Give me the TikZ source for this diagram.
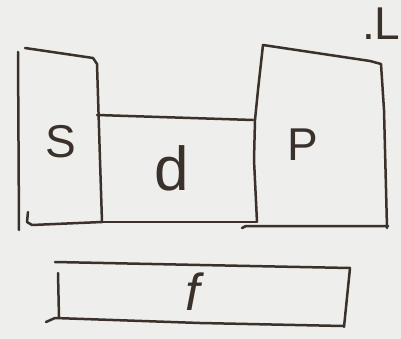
\documentclass[tikz,border=0pt]{standalone}
\usepackage{fontspec}
\setmainfont{Liberation Sans}
\definecolor{ink}{RGB}{58,50,42}
\definecolor{paper}{RGB}{238,238,236}
\begin{document}
\begin{tikzpicture}[x=1pt,y=-1pt,
  pen/.style={draw=ink,line width=2.5pt,line cap=round,line join=round},
  lbl/.style={text=ink,inner sep=0pt,font=\fontsize{46}{48}\selectfont}]
\fill[paper] (0,0) rectangle (401,339);
\useasboundingbox (0,0) rectangle (401,339);
% S box
\draw[pen] (18,52) -- (19,230);
\draw[pen] (25,48) -- (93,58) -- (97,64) -- (100,160) -- (102,222);
\draw[pen] (28,212) -- (27,222) -- (32,225) -- (102,222);
% d box
\draw[pen] (97,115) -- (253,120);
\draw[pen] (102,222) -- (256,222);
% P box
\draw[pen] (257,222) -- (254,160) -- (255,120) -- (258,90) -- (263,45) -- (370,61) -- (381,64) -- (384,110) -- (387,228);
\draw[pen] (242,228) -- (246,226) -- (388,226);
% f box
\draw[pen] (55,262) -- (200,265) -- (350,268) -- (344,327);
\draw[pen] (46,322) -- (55,318) -- (200,323) -- (343,326);
\draw[pen] (58,273) -- (59,318);
% labels
\node[lbl] (s) at (61,142) {S};
\node[lbl,font=\fontsize{62}{64}\selectfont] (d) at (172,168) {d};
\node[lbl] (p) at (303,145) {P};
\node[lbl,font=\fontsize{52}{54}\selectfont\itshape] (f) at (193,292) {f};
\node[lbl,font=\fontsize{46}{48}\selectfont,anchor=base west] (l) at (362,40) {.L};
\end{tikzpicture}
\end{document}
